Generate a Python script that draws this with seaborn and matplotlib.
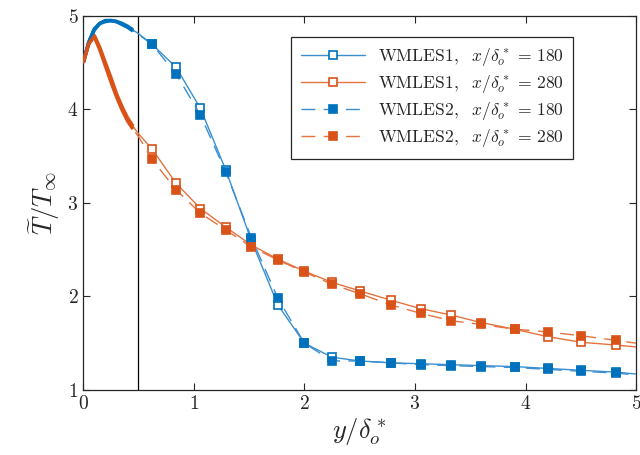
import numpy as np
import pandas as pd
import seaborn as sns
import matplotlib.pyplot as plt
from matplotlib.lines import Line2D

# wall-normal positions: dense near-wall part, then the marked stations
y_wall = [0.0, 0.05, 0.1, 0.15, 0.2, 0.25, 0.3, 0.35, 0.4, 0.45, 0.5]
y_marks = [0.62, 0.84, 1.06, 1.29, 1.52, 1.76, 2.00, 2.25, 2.50, 2.78, 3.05, 3.33, 3.60, 3.90, 4.20, 4.50, 4.82]
y_end = [5.0]

# WMLES1, x/delta = 180
T1_180_wall = [4.50, 4.72, 4.86, 4.92, 4.95, 4.95, 4.94, 4.92, 4.89, 4.85, 4.81]
T1_180_marks = [4.70, 4.45, 4.01, 3.35, 2.60, 1.91, 1.50, 1.35, 1.31, 1.29, 1.28, 1.27, 1.26, 1.25, 1.23, 1.21, 1.19]
T1_180_end = [1.17]
# WMLES1, x/delta = 280
T1_280_wall = [4.50, 4.71, 4.79, 4.66, 4.50, 4.34, 4.17, 4.03, 3.91, 3.82, 3.74]
T1_280_marks = [3.58, 3.21, 2.94, 2.74, 2.55, 2.40, 2.27, 2.15, 2.06, 1.96, 1.87, 1.80, 1.72, 1.65, 1.57, 1.51, 1.48]
T1_280_end = [1.46]
# WMLES2, x/delta = 180
T2_180_wall = [4.50, 4.71, 4.85, 4.92, 4.94, 4.95, 4.94, 4.91, 4.88, 4.84, 4.80]
T2_180_marks = [4.70, 4.38, 3.94, 3.33, 2.63, 1.98, 1.50, 1.31, 1.31, 1.29, 1.27, 1.26, 1.25, 1.24, 1.22, 1.20, 1.18]
T2_180_end = [1.16]
# WMLES2, x/delta = 280
T2_280_wall = [4.50, 4.70, 4.78, 4.64, 4.47, 4.30, 4.14, 4.00, 3.88, 3.79, 3.71]
T2_280_marks = [3.47, 3.14, 2.89, 2.71, 2.53, 2.39, 2.26, 2.13, 2.03, 1.91, 1.82, 1.74, 1.70, 1.65, 1.62, 1.58, 1.53]
T2_280_end = [1.50]

labels = [r'$\mathrm{WMLES1},\ \ x/\delta_o^*\,=\,180$',
          r'$\mathrm{WMLES1},\ \ x/\delta_o^*\,=\,280$',
          r'$\mathrm{WMLES2},\ \ x/\delta_o^*\,=\,180$',
          r'$\mathrm{WMLES2},\ \ x/\delta_o^*\,=\,280$']

blue = '#0072BD'
orange = '#D95319'
blue_l = '#3a8fd0'
orange_l = '#e4733f'

sns.set_style('ticks')
plt.rcParams['font.family'] = ['cmr10', 'DejaVu Serif']
plt.rcParams['mathtext.fontset'] = 'cm'
plt.rcParams['axes.formatter.use_mathtext'] = True

fig = plt.figure(figsize=(6.4, 4.55), dpi=100)
ax = fig.add_axes([0.130, 0.143, 0.864, 0.822])

series = [
    (T1_180_wall, T1_180_marks, T1_180_end, blue, blue_l, '-', 'none'),
    (T1_280_wall, T1_280_marks, T1_280_end, orange, orange_l, '-', 'none'),
    (T2_180_wall, T2_180_marks, T2_180_end, blue, blue_l, (0, (10, 6)), None),
    (T2_280_wall, T2_280_marks, T2_280_end, orange, orange_l, (0, (10, 6)), None),
]

handles = []
for (tw, tm, te, c, cl, ls, fc), lab in zip(series, labels):
    face = 'white' if fc == 'none' else c
    df = pd.DataFrame({'y': y_wall + y_marks + y_end, 'T': tw + tm + te})
    idx = list(range(len(y_wall), len(y_wall) + len(y_marks)))
    sns.lineplot(data=df, x='y', y='T', ax=ax, color=cl, linestyle=ls, lw=1.0,
                 estimator=None, marker='s', markevery=idx, markersize=6,
                 markeredgecolor=c, markerfacecolor=face, markeredgewidth=1.2,
                 zorder=3)
    # dense near-wall points look like a thick line
    dw = pd.DataFrame({'y': y_wall[:-1], 'T': tw[:-1]})
    sns.lineplot(data=dw, x='y', y='T', ax=ax, color=c, lw=2.6, estimator=None,
                 solid_capstyle='butt', zorder=3)
    handles.append(Line2D([0], [0], color=cl, linestyle=ls, lw=1.0, marker='s',
                          markersize=6, markeredgecolor=c, markerfacecolor=face,
                          markeredgewidth=1.2))

ax.axvline(0.5, color='black', lw=0.9, zorder=2)

ax.set_xlim(0, 5)
ax.set_ylim(1, 5)
ax.set_xticks([0, 1, 2, 3, 4, 5])
ax.set_yticks([1, 2, 3, 4, 5])
ax.tick_params(direction='in', top=True, right=True, labelsize=14, length=5, width=0.8)
for s in ax.spines.values():
    s.set_linewidth(0.9)
    s.set_color('#262626')
ax.set_xlabel(r'$y/\delta_o^*$', fontsize=19, labelpad=2)
ax.set_ylabel(r'$\widetilde{T}/T_\infty$', fontsize=19, labelpad=4)

leg = ax.legend(handles, labels, loc='upper right', bbox_to_anchor=(0.886, 0.944),
                borderaxespad=0, fontsize=12.6, frameon=True, fancybox=False, framealpha=1,
                edgecolor='#262626', handlelength=3.7, handletextpad=0.7,
                borderpad=0.55, labelspacing=0.28)
leg.get_frame().set_linewidth(0.9)

fig.savefig('out.png', dpi=100)
